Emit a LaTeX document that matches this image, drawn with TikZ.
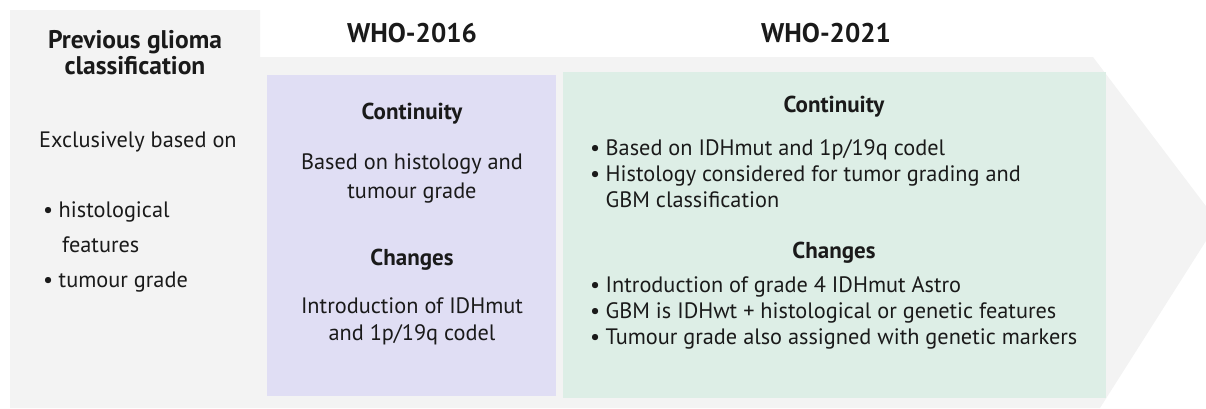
\documentclass[tikz,border=0pt]{standalone}
\usepackage{fontspec}
\setmainfont{PT Sans}
\definecolor{bandgray}{HTML}{F3F3F3}
\definecolor{lilac}{HTML}{E0DEF4}
\definecolor{mint}{HTML}{DDEEE6}
\definecolor{ink}{HTML}{1A1A1A}
\tikzset{
  body/.style={font=\fontsize{22.3}{26}\selectfont, text=ink, inner sep=0pt, anchor=base},
  bodyl/.style={body, anchor=base west},
  head/.style={font=\fontsize{25.5}{30}\selectfont\bfseries, text=ink, inner sep=0pt, anchor=base},
  headw/.style={head, font=\fontsize{27}{31}\selectfont\bfseries},
  sub/.style={font=\fontsize{23}{27}\selectfont\bfseries, text=ink, inner sep=0pt, anchor=base},
}
\newcommand{\blt}{\makebox[15.5pt][l]{\textbullet}}
\begin{document}
\begin{tikzpicture}[x=1pt,y=-1pt]
\useasboundingbox (0,0) rectangle (1206,408);
\begin{scope}
\clip (0,0) rectangle (1206,408);
% grey band ending in an arrow head
\fill[bandgray] (10,10) -- (260,10) -- (260,57) -- (1093,57) -- (1218,222)
  -- (1100,408) -- (10,408) -- cycle;
\end{scope}
% panels
\fill[lilac] (267,75) rectangle (556,396);
\fill[mint] (563,72) rectangle (1106,398);

% first column
\node[head] (prevA) at (135,48) {Previous glioma};
\node[head] (prevB) at (135,74) {classification};
\node[bodyl] (excl) at (39,147) {Exclusively based on};
\node[bodyl] (histA) at (43,217) {\blt histological};
\node[bodyl] (histB) at (62,252) {features};
\node[bodyl] (grade) at (43,287) {\blt tumour grade};

% WHO-2016
\node[headw] (who16) at (412,42) {WHO-2016};
\node[sub] (cont16) at (412,119) {Continuity};
\node[body] (c16a) at (412,169) {Based on histology and};
\node[body] (c16b) at (412,198) {tumour grade};
\node[sub] (chg16) at (412,265) {Changes};
\node[body] (g16a) at (412,313) {Introduction of IDHmut};
\node[body] (g16b) at (412,340) {and 1p/19q codel};

% WHO-2021
\node[headw] (who21) at (826,42) {WHO-2021};
\node[sub] (cont21) at (834,112) {Continuity};
\node[bodyl] (c21a) at (590,155) {\blt Based on IDHmut and 1p/19q codel};
\node[bodyl] (c21b) at (590,181) {\blt Histology considered for tumor grading and};
\node[bodyl] (c21c) at (605.5,207) {GBM classification};
\node[sub] (chg21) at (834,258) {Changes};
\node[bodyl] (g21a) at (590,292) {\blt Introduction of grade 4 IDHmut Astro};
\node[bodyl] (g21b) at (590,318) {\blt GBM is IDHwt + histological or genetic features};
\node[bodyl] (g21c) at (590,344) {\blt Tumour grade also assigned with genetic markers};
\end{tikzpicture}
\end{document}
